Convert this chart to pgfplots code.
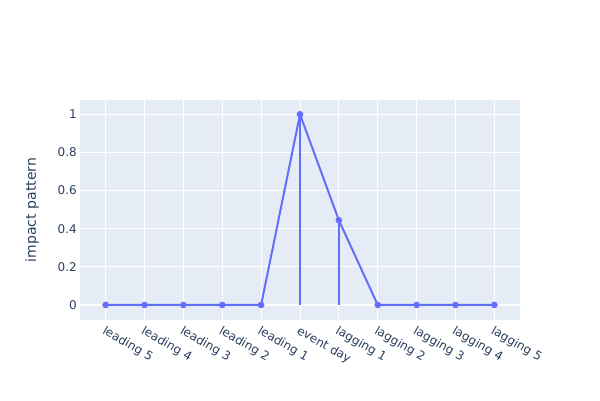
\documentclass[border=0pt]{standalone}
\usepackage{pgfplots}
\pgfplotsset{compat=1.18}
\usepackage{fontspec}
\setmainfont{DejaVu Sans}
\definecolor{plotbg}{HTML}{E5ECF6}
\definecolor{trace}{HTML}{636EFA}
\definecolor{txt}{HTML}{2A3F5F}
\begin{document}
\begin{tikzpicture}
\begin{axis}[
    at={(80pt,80pt)}, anchor=south west,
    scale only axis, width=440pt, height=220pt,
    xmin=-0.66, xmax=10.66,
    ymin=-0.079, ymax=1.075,
    axis background/.style={fill=plotbg},
    axis line style={draw=none},
    major tick length=0pt,
    grid=major,
    major grid style={white, line width=1pt},
    xtick={0,...,10},
    xticklabels={leading 5, leading 4, leading 3, leading 2, leading 1, event day, lagging 1, lagging 2, lagging 3, lagging 4, lagging 5},
    ytick={0,0.2,0.4,0.6,0.8,1},
    yticklabels={0,0.2,0.4,0.6,0.8,1},
    tick label style={font=\fontsize{12}{14}\selectfont, text=txt},
    xticklabel style={rotate=-30, anchor=north west, inner sep=0pt, xshift=3pt, yshift=-4pt},
    yticklabel style={anchor=east, inner sep=0pt, xshift=-3pt},
    ylabel={impact pattern},
    ylabel style={at={(axis description cs:-0.109,0.5)}, anchor=center, rotate=0, font=\fontsize{14}{16}\selectfont, text=txt},
    /pgf/number format/assume math mode=true,
]
\addplot[white, line width=2pt, forget plot] coordinates {(-1,0) (11,0)};
\addplot[trace, line width=2pt, no marks] coordinates {(5,0) (5,1)};
\addplot[trace, line width=2pt, no marks] coordinates {(6,0) (6,0.444)};
\addplot[trace, line width=2pt, mark=*, mark size=3pt, mark options={solid, fill=trace, draw=trace, line width=0.5pt}] coordinates {
(0,0) (1,0) (2,0) (3,0) (4,0) (5,1) (6,0.444) (7,0) (8,0) (9,0) (10,0)
};
\end{axis}
\path[use as bounding box] (0,0) rectangle (600pt,400pt);
\end{tikzpicture}
\end{document}
